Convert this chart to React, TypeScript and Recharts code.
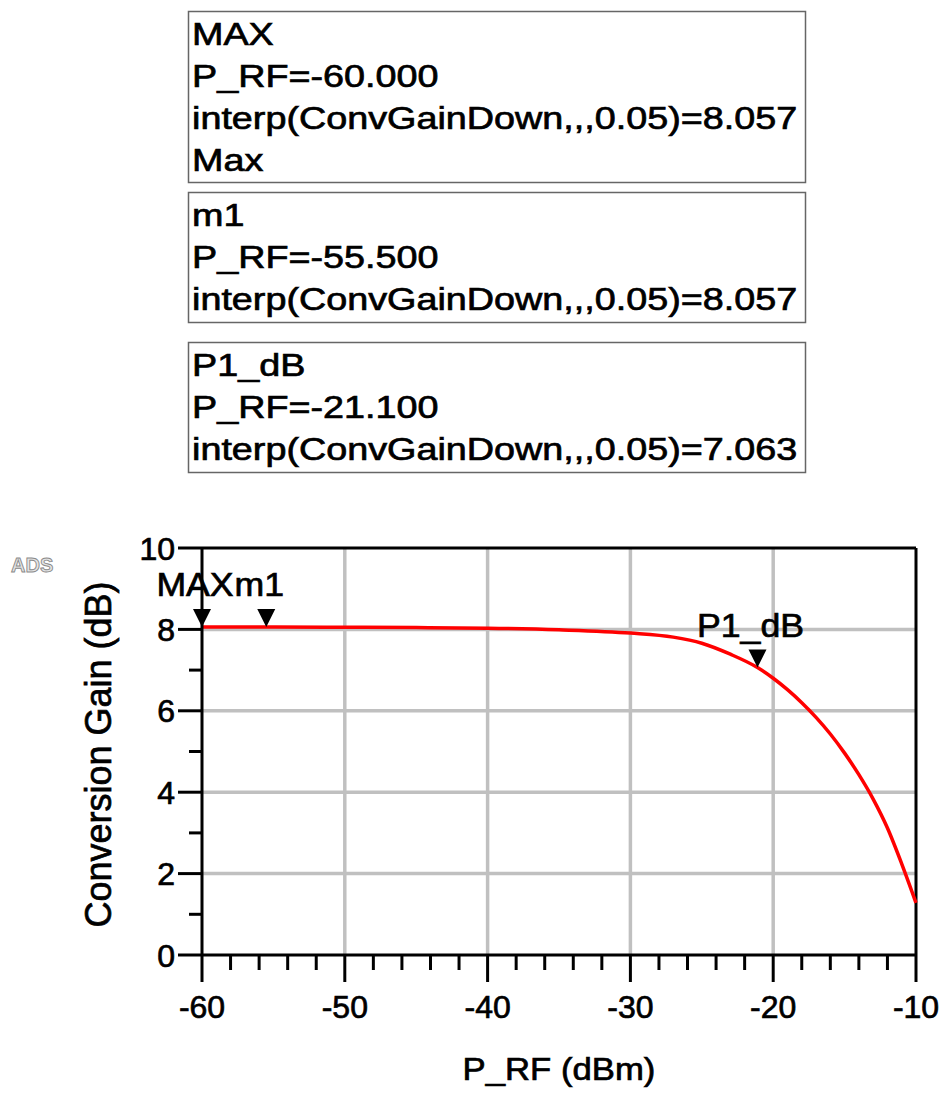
import { Label, Line, LineChart, ReferenceDot, ReferenceLine, XAxis, YAxis } from 'recharts';

const FONT = '"Liberation Sans", Arial, sans-serif';

// swept input power (dBm) and conversion gain (dB)
const pRf = [-60, -55, -50, -45, -40, -35, -30, -27, -25, -23, -21.1, -20, -19, -18, -17, -16, -15, -14, -13, -12, -11, -10];
const gain = [8.057, 8.057, 8.052, 8.045, 8.03, 7.99, 7.91, 7.81, 7.66, 7.39, 7.063, 6.8, 6.52, 6.2, 5.84, 5.43, 4.96, 4.43, 3.83, 3.12, 2.24, 1.28];

const xTicks = [-60, -58, -56, -54, -52, -50, -48, -46, -44, -42, -40, -38, -36, -34, -32, -30, -28, -26, -24, -22, -20, -18, -16, -14, -12, -10];
const yTicks = [0, 1, 2, 3, 4, 5, 6, 7, 8, 9, 10];
const xGrid = [-50, -40, -30, -20];
const yGrid = [2, 4, 6, 8];

// markers
const markerNames = ['MAX', 'm1', 'P1_dB'];
const markerX = [-60, -55.5, -21.1];
const markerY = [8.057, 8.057, 7.063];

// readout boxes
const boxLines = [
  ['MAX', 'P_RF=-60.000', 'interp(ConvGainDown,,,0.05)=8.057', 'Max'],
  ['m1', 'P_RF=-55.500', 'interp(ConvGainDown,,,0.05)=8.057'],
  ['P1_dB', 'P_RF=-21.100', 'interp(ConvGainDown,,,0.05)=7.063'],
];
const boxTops = [11, 192, 342];

const data = pRf.map((x, i) => ({ x, gain: gain[i] }));

function StretchText({ x, y, sx, size, anchor = 'start', children }: any) {
  return (
    <g transform={`translate(${x},${y}) scale(${sx},1)`}>
      <text
        x={0}
        y={0}
        textAnchor={anchor}
        fontSize={size}
        fontFamily={FONT}
        fill="#000"
        stroke="#000"
        strokeWidth={0.7}
      >
        {children}
      </text>
    </g>
  );
}

function XTick({ x, y, payload }: any) {
  const major = payload.value % 10 === 0;
  return (
    <g>
      <line x1={x} x2={x} y1={y} y2={y + (major ? 27 : 15)} stroke="#000" strokeWidth={3} />
      {major && (
        <text x={x} y={y + 63} textAnchor="middle" fontSize={32} fontFamily={FONT} fill="#000" stroke="#000" strokeWidth={0.7}>
          {payload.value}
        </text>
      )}
    </g>
  );
}

function YTick({ x, y, payload }: any) {
  const major = payload.value % 2 === 0;
  return (
    <g>
      <line x1={x - (major ? 24 : 13)} x2={x} y1={y} y2={y} stroke="#000" strokeWidth={3} />
      {major && (
        <text x={x - 27} y={y + 11.5} textAnchor="end" fontSize={32} fontFamily={FONT} fill="#000" stroke="#000" strokeWidth={0.7}>
          {payload.value}
        </text>
      )}
    </g>
  );
}

function MarkerShape({ cx, cy, name }: any) {
  return (
    <g>
      <path d={`M${cx - 9},${cy - 18} L${cx + 9},${cy - 18} L${cx},${cy} Z`} fill="#000" />
      <StretchText x={cx - 7} y={cy - 31} sx={1.08} size={33} anchor="middle">
        {name}
      </StretchText>
    </g>
  );
}

export default function App() {
  return (
    <div style={{ position: 'absolute', left: 0, top: 0, width: 940, height: 1093, background: '#fff' }}>
      <LineChart
        width={940}
        height={1093}
        data={data}
        margin={{ top: 548, right: 24, bottom: 78, left: 142 }}
        style={{ position: 'absolute', left: 0, top: 0 }}
      >
        {xGrid.map((v) => (
          <ReferenceLine key={`gx${v}`} x={v} stroke="#c0c0c0" strokeWidth={3.5} ifOverflow="visible" />
        ))}
        {yGrid.map((v) => (
          <ReferenceLine key={`gy${v}`} y={v} stroke="#c0c0c0" strokeWidth={3.5} ifOverflow="visible" />
        ))}
        <XAxis
          dataKey="x"
          type="number"
          domain={[-60, -10]}
          ticks={xTicks}
          interval={0}
          height={60}
          tickSize={0}
          tickMargin={0}
          tickLine={false}
          axisLine={{ stroke: '#000', strokeWidth: 3 }}
          tick={<XTick />}
        >
          <Label
            content={({ viewBox }: any) => (
              <StretchText x={viewBox.x + viewBox.width / 2} y={1080} sx={1.12} size={31} anchor="middle">
                P_RF (dBm)
              </StretchText>
            )}
          />
        </XAxis>
        <YAxis
          type="number"
          domain={[0, 10]}
          ticks={yTicks}
          interval={0}
          width={60}
          tickSize={0}
          tickMargin={0}
          tickLine={false}
          axisLine={{ stroke: '#000', strokeWidth: 3 }}
          tick={<YTick />}
        >
          <Label
            content={({ viewBox }: any) => {
              const cy = viewBox.y + viewBox.height / 2 + 3;
              return (
                <text
                  x={98}
                  y={cy}
                  transform={`rotate(-90, 98, ${cy})`}
                  textAnchor="middle"
                  dominantBaseline="central"
                  fontSize={36}
                  fontFamily={FONT}
                  fill="#000"
                  stroke="#000"
                  strokeWidth={0.7}
                >
                  Conversion Gain (dB)
                </text>
              );
            }}
          />
        </YAxis>
        <ReferenceLine y={10} stroke="#000" strokeWidth={3} ifOverflow="visible" />
        <ReferenceLine x={-10} stroke="#000" strokeWidth={3} ifOverflow="visible" />
        <Line
          type="monotone"
          dataKey="gain"
          stroke="#ff0000"
          strokeWidth={3.5}
          dot={false}
          isAnimationActive={false}
        />
        {markerNames.map((name, i) => (
          <ReferenceDot
            key={name}
            x={markerX[i]}
            y={markerY[i]}
            ifOverflow="visible"
            shape={(p: any) => <MarkerShape cx={p.cx} cy={p.cy} name={name} />}
          />
        ))}
      </LineChart>

      <svg width={940} height={500} style={{ position: 'absolute', left: 0, top: 0 }}>
        {boxLines.map((lines, b) => (
          <g key={b}>
            <rect
              x={188.5}
              y={boxTops[b] + 0.5}
              width={617}
              height={lines.length * 42 + (lines.length === 4 ? 3 : 4)}
              fill="#fff"
              stroke="#666"
              strokeWidth={1.5}
            />
            {lines.map((t, i) => (
              <StretchText key={i} x={192} y={boxTops[b] + 34 + i * 42} sx={1.18} size={32}>
                {t}
              </StretchText>
            ))}
          </g>
        ))}
      </svg>
      <svg width={80} height={40} style={{ position: 'absolute', left: 0, top: 548 }}>
        <text x={11} y={24} fontSize={20} fontWeight="bold" fontFamily={FONT} fill="#e4e4e4" stroke="#8a8a8a" strokeWidth={0.9}>
          ADS
        </text>
      </svg>
    </div>
  );
}
